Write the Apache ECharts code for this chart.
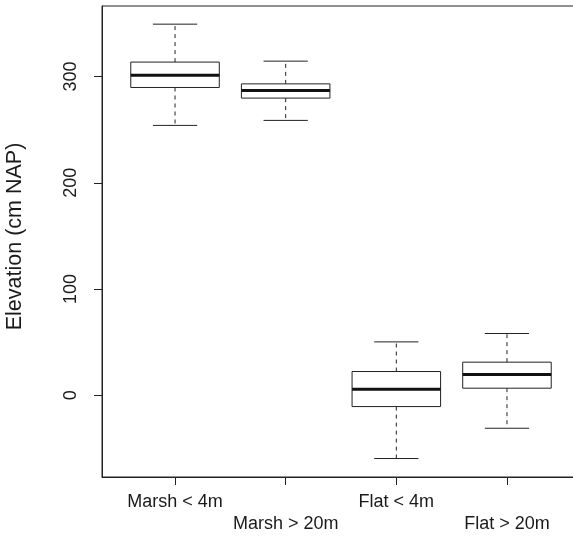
<!DOCTYPE html>
<html>
<head>
<meta charset="utf-8">
<script src="https://cdn.jsdelivr.net/npm/echarts@6/dist/echarts.min.js"></script>
<style>
html,body{margin:0;padding:0;background:#fff;}
#chart{width:573px;height:537px;}
</style>
</head>
<body>
<div id="chart"></div>
<script>
// ---- data ----
const categories = ['Marsh < 4m', 'Marsh > 20m', 'Flat < 4m', 'Flat > 20m'];
const whiskerLow  = [254, 258.7, -59.6, -31.1];
const quart1      = [289.7, 279.7, -10.7, 6.6];
const medians     = [301.3, 286.9, 5.6, 19.5];
const quart3      = [313.6, 293.1, 22.3, 31.1];
const whiskerHigh = [349.3, 314.5, 50.2, 58.1];
const yTicks = [0, 100, 200, 300];
const xTicks = [1, 2, 3, 4];

const boxData = categories.map((c, i) => [i + 1, whiskerLow[i], quart1[i], medians[i], quart3[i], whiskerHigh[i]]);

const lineCol = '#222';
const textCol = '#1a1a1a';
const font = 'Liberation Sans, Arial, Helvetica, sans-serif';

function renderBox(params, api) {
  const x = api.value(0);
  const lo = api.value(1), q1 = api.value(2), md = api.value(3), q3 = api.value(4), hi = api.value(5);
  const pLo = api.coord([x, lo]);
  const pQ1 = api.coord([x, q1]);
  const pMd = api.coord([x, md]);
  const pQ3 = api.coord([x, q3]);
  const pHi = api.coord([x, hi]);
  const halfBox = api.size([0.4, 0])[0];
  const halfCap = api.size([0.2, 0])[0];
  const cx = pMd[0];
  const solid = { stroke: lineCol, lineWidth: 1, fill: null };
  const dashed = { stroke: lineCol, lineWidth: 1, lineDash: [4, 4], fill: null };
  return {
    type: 'group',
    children: [
      { type: 'line', shape: { x1: cx, y1: pQ3[1], x2: cx, y2: pHi[1] }, style: dashed },
      { type: 'line', shape: { x1: cx, y1: pQ1[1], x2: cx, y2: pLo[1] }, style: dashed },
      { type: 'line', shape: { x1: cx - halfCap, y1: pHi[1], x2: cx + halfCap, y2: pHi[1] }, style: solid },
      { type: 'line', shape: { x1: cx - halfCap, y1: pLo[1], x2: cx + halfCap, y2: pLo[1] }, style: solid },
      { type: 'rect', shape: { x: cx - halfBox, y: pQ3[1], width: 2 * halfBox, height: pQ1[1] - pQ3[1] },
        style: { stroke: lineCol, lineWidth: 1, fill: '#fff' } },
      { type: 'line', shape: { x1: cx - halfBox, y1: pMd[1], x2: cx + halfBox, y2: pMd[1] },
        style: { stroke: '#111', lineWidth: 3 } }
    ]
  };
}

const chart = echarts.init(document.getElementById('chart'), null, { renderer: 'canvas' });
chart.setOption({
  animation: false,
  backgroundColor: '#fff',
  grid: {
    left: 102, top: 6, right: -7, bottom: 60,
    outerBoundsMode: 'none',
    containLabel: false,
    show: true, borderColor: lineCol, borderWidth: 1, backgroundColor: 'transparent'
  },
  xAxis: {
    type: 'value',
    min: 0.34, max: 4.66,
    splitLine: { show: false },
    axisLine: { show: true, onZero: false, lineStyle: { color: lineCol, width: 1 } },
    axisTick: { show: true, length: 8, inside: false, customValues: xTicks, lineStyle: { color: lineCol } },
    axisLabel: {
      customValues: xTicks,
      margin: 14,
      color: textCol, fontSize: 18, fontFamily: font, lineHeight: 22,
      formatter: function (v) {
        const i = Math.round(v) - 1;
        return (i % 2 === 1 ? '\n' : '') + categories[i];
      }
    }
  },
  yAxis: {
    type: 'value',
    min: -77, max: 366.4,
    name: 'Elevation (cm NAP)',
    nameLocation: 'middle',
    nameGap: 76,
    nameTextStyle: { color: textCol, fontSize: 21.5, fontFamily: font, padding: [0, 0, 0, 10] },
    splitLine: { show: false },
    axisLine: { show: true, onZero: false, lineStyle: { color: lineCol, width: 1 } },
    axisTick: { show: true, length: 8, customValues: yTicks, lineStyle: { color: lineCol } },
    axisLabel: {
      customValues: yTicks,
      rotate: 90,
      margin: 22,
      color: textCol, fontSize: 18, fontFamily: font
    }
  },
  series: [{
    type: 'custom',
    renderItem: renderBox,
    encode: { x: 0, y: [1, 2, 3, 4, 5] },
    data: boxData,
    clip: false
  }]
});
</script>
</body>
</html>
